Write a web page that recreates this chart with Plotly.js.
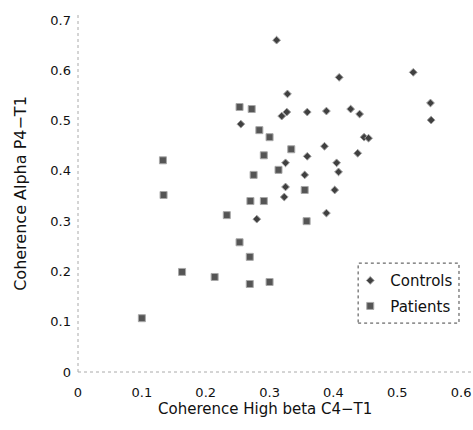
<!DOCTYPE html>
<html>
<head>
<meta charset="utf-8">
<script src="https://cdn.plot.ly/plotly-3.0.1.min.js"></script>
<style>html,body{margin:0;padding:0;background:#fff;}#chart{width:473px;height:430px;}</style>
</head>
<body>
<div id="chart"></div>
<script>
const controlsX = [0.311,0.409,0.525,0.328,0.319,0.327,0.359,0.389,0.427,0.441,0.552,0.553,0.255,0.448,0.455,0.386,0.438,0.359,0.325,0.405,0.408,0.355,0.325,0.402,0.323,0.389,0.280];
const controlsY = [0.660,0.586,0.596,0.553,0.509,0.517,0.517,0.519,0.523,0.513,0.535,0.501,0.493,0.467,0.465,0.449,0.435,0.429,0.416,0.416,0.398,0.392,0.368,0.362,0.348,0.316,0.304];
const patientsX = [0.253,0.272,0.284,0.300,0.334,0.291,0.133,0.275,0.314,0.355,0.134,0.270,0.291,0.233,0.358,0.253,0.269,0.163,0.214,0.269,0.300,0.100];
const patientsY = [0.527,0.523,0.481,0.467,0.443,0.431,0.421,0.392,0.402,0.362,0.352,0.340,0.340,0.312,0.300,0.258,0.229,0.199,0.189,0.175,0.179,0.107];
const xTicks = [0,0.1,0.2,0.3,0.4,0.5,0.6];
const yTicks = [0,0.1,0.2,0.3,0.4,0.5,0.6,0.7];
const seriesNames = ['Controls','Patients'];
const xTitle = 'Coherence High beta C4\u2212T1';
const yTitle = 'Coherence Alpha P4\u2212T1';

const FONT = 'DejaVu Sans, sans-serif';
const traces = [
  {x: controlsX, y: controlsY, name: seriesNames[0], legendgroup: 'c', type: 'scatter', mode: 'markers',
   marker: {symbol: 'diamond', size: 6, color: '#404040', line: {color: '#a0a0a0', width: 1}}},
  {x: patientsX, y: patientsY, name: seriesNames[1], legendgroup: 'p', type: 'scatter', mode: 'markers',
   marker: {symbol: 'square', size: 7, color: '#555555', line: {color: '#a8a8a8', width: 1}}}
];
const layout = {
  width: 473, height: 430,
  margin: {l: 78, r: 1, t: 15, b: 58},
  paper_bgcolor: '#fff', plot_bgcolor: '#fff',
  font: {family: FONT, size: 13, color: '#111'},
  showlegend: true,
  legend: {x: 0.691, y: 0.302, xanchor: 'left', yanchor: 'top', bgcolor: 'rgba(0,0,0,0)',
           traceorder: 'grouped', tracegroupgap: 3,
           borderwidth: 0, font: {family: FONT, size: 15, color: '#111'}},
  xaxis: {range: [0, 0.617], tickvals: xTicks, ticktext: xTicks.map(String), showgrid: false, zeroline: false,
          showline: false, ticks: '', ticklabelstandoff: 11},
  yaxis: {range: [0, 0.71], tickvals: yTicks, ticktext: yTicks.map(String), showgrid: false, zeroline: false,
          showline: false, ticks: '', ticklabelstandoff: 6,
          title: {text: yTitle, font: {family: FONT, size: 16, color: '#111'}, standoff: 19}},
  annotations: [
    {text: xTitle, xref: 'paper', yref: 'paper', x: 0.475, y: 0, xanchor: 'center', yanchor: 'top',
     yshift: -26, showarrow: false, font: {family: FONT, size: 15, color: '#111'}}
  ],
  shapes: [
    {type: 'line', xref: 'paper', yref: 'paper', x0: 0, x1: 1, y0: 0, y1: 0, line: {color: '#aaa', width: 1, dash: 'dot'}},
    {type: 'line', xref: 'paper', yref: 'paper', x0: 0, x1: 0, y0: 0, y1: 1, line: {color: '#aaa', width: 1, dash: 'dot'}},
    {type: 'rect', xref: 'paper', yref: 'paper', x0: 0.711, x1: 0.967, y0: 0.137, y1: 0.305, line: {color: '#444', width: 1, dash: 'dot'}}
  ]
};
Plotly.newPlot('chart', traces, layout, {staticPlot: true, displayModeBar: false});
</script>
</body>
</html>
